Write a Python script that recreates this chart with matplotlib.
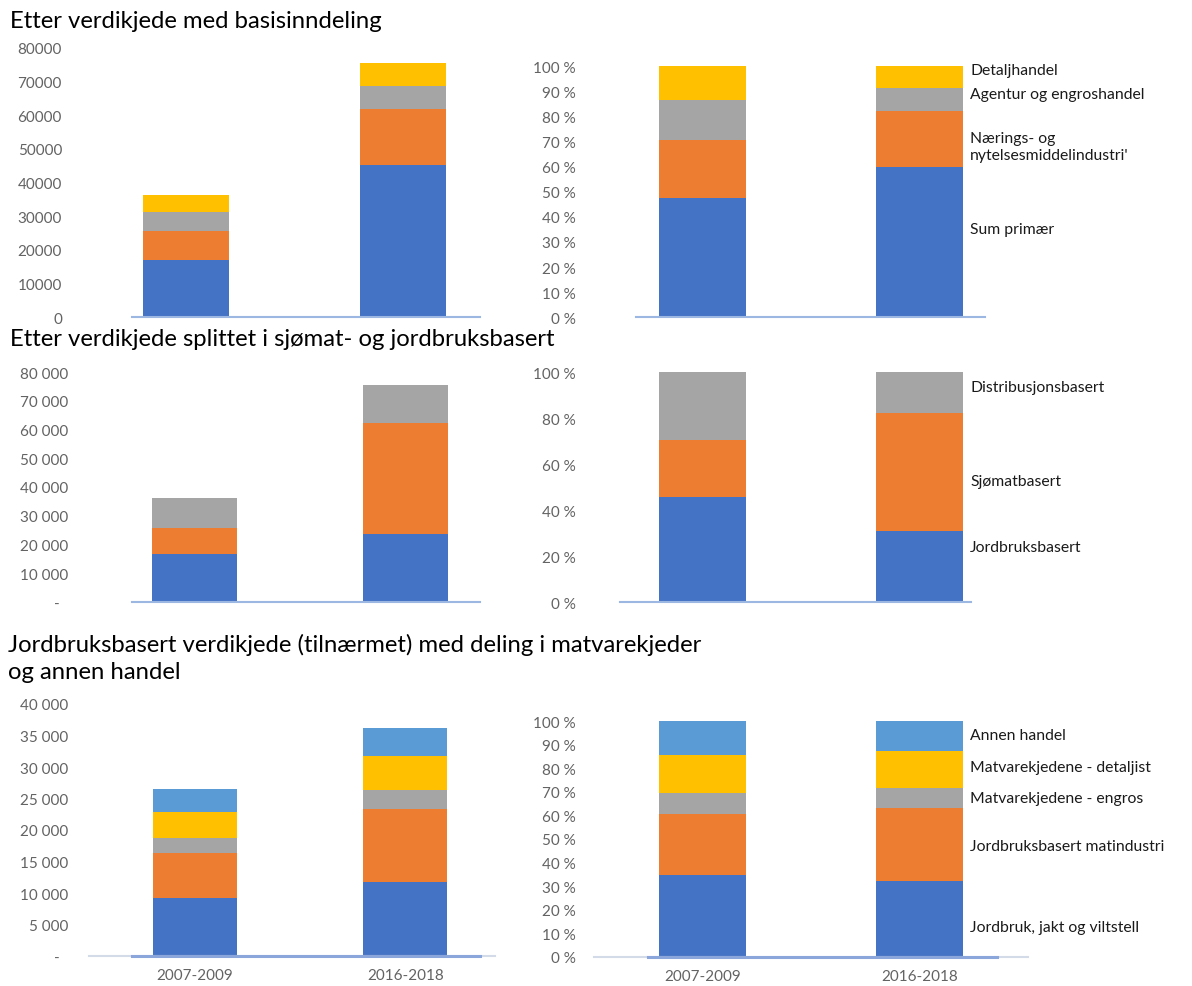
import numpy as np
import matplotlib
matplotlib.use("Agg")
import matplotlib.pyplot as plt

plt.rcParams['font.family'] = ['Lato', 'DejaVu Sans']

# ---------------- data ----------------
periods = ["2007-2009", "2016-2018"]

# Panel 1/2: value chain, basic split (mill. kr)
basis_labels = ["Sum primær", "Nærings- og\nnytelsesmiddelindustri'",
                "Agentur og engroshandel", "Detaljhandel"]
basis_sum_primaer = [17100, 45350]
basis_naering = [8450, 16650]
basis_agentur = [5750, 6700]
basis_detalj = [4950, 6750]
# shares (%)
basis_pct_sum_primaer = [47.4, 60.0]
basis_pct_naering = [23.3, 22.2]
basis_pct_agentur = [15.8, 9.0]
basis_pct_detalj = [13.5, 8.8]

# Panel 3/4: split seafood / agriculture
split_labels = ["Jordbruksbasert", "Sjømatbasert", "Distribusjonsbasert"]
split_jordbruk = [16600, 23600]
split_sjomat = [8950, 38600]
split_distr = [10700, 13500]
split_pct_jordbruk = [45.7, 31.2]
split_pct_sjomat = [24.9, 51.0]
split_pct_distr = [29.4, 17.8]

# Panel 5/6: agriculture-based chain
agri_labels = ["Jordbruk, jakt og viltstell", "Jordbruksbasert matindustri",
               "Matvarekjedene - engros", "Matvarekjedene - detaljist",
               "Annen handel"]
agri_jordbruk = [9200, 11810]
agri_matind = [7160, 11550]
agri_engros = [2380, 2910]
agri_detaljist = [4080, 5460]
agri_annen = [3660, 4450]
agri_pct_jordbruk = [34.6, 32.3]
agri_pct_matind = [26.1, 31.0]
agri_pct_engros = [8.9, 8.2]
agri_pct_detaljist = [16.2, 16.0]
agri_pct_annen = [14.2, 12.5]

titles = ["Etter verdikjede med basisinndeling",
          "Etter verdikjede splittet i sjømat- og jordbruksbasert",
          "Jordbruksbasert verdikjede (tilnærmet) med deling i matvarekjeder\nog annen handel"]

# ---------------- style ----------------
BLUE = "#4472C4"
ORANGE = "#ED7D31"
GRAY = "#A5A5A5"
YELLOW = "#FFC000"
LBLUE = "#5B9BD5"
TICKC = "#636363"
AXLINE = "#9DB7E3"
AXLIGHT = "#D3DAE8"
AXDARK = "#8AA6DA"

W, H = 1192, 987
fig = plt.figure(figsize=(W / 100, H / 100), dpi=100)


def add_ax(x0, x1, ytop, ybot):
    return fig.add_axes([x0 / W, 1 - ybot / H, (x1 - x0) / W, (ybot - ytop) / H])


def setup(ax, x0, x1, c0, c1, bw_px, ylim, yticks, ylabels, pad_px,
          spine_color=AXLINE, xlabels=False):
    span = c1 - c0
    ax.set_xlim(-(c0 - x0) / span, 1 + (x1 - c1) / span)
    ax.set_ylim(*ylim)
    for s in ["top", "right", "left"]:
        ax.spines[s].set_visible(False)
    ax.spines["bottom"].set_color(spine_color)
    ax.spines["bottom"].set_linewidth(1.5)
    ax.set_yticks(yticks)
    ax.set_yticklabels(ylabels)
    ax.tick_params(axis="y", length=0, pad=pad_px * 0.72, labelsize=11,
                   labelcolor=TICKC)
    if xlabels:
        ax.set_xticks([0, 1])
        ax.set_xticklabels(periods)
        ax.tick_params(axis="x", length=0, pad=9, labelsize=11,
                       labelcolor=TICKC)
    else:
        ax.set_xticks([])
    ax.set_facecolor("none")
    return bw_px / span


def stack(ax, series, colors, width):
    x = np.arange(len(periods))
    bottom = np.zeros(len(periods))
    for vals, c in zip(series, colors):
        vals = np.asarray(vals, dtype=float)
        ax.bar(x, vals, width, bottom=bottom, color=c, linewidth=0, zorder=2)
        bottom += vals


def fmt_space(v):
    return "-  " if v == 0 else f"{v:,}".replace(",", " ")


c_left = (186, 402.5)
c_right = (702.3, 919.5)

# ---- Panel 1 ----
ax1 = add_ax(132, 480, 49, 318)
t = list(range(0, 80001, 10000))
w = setup(ax1, 132, 480, *c_left, 86, (0, 80000), t, [str(v) for v in t], 70)
stack(ax1, [basis_sum_primaer, basis_naering, basis_agentur, basis_detalj],
      [BLUE, ORANGE, GRAY, YELLOW], w)

# ---- Panel 2 ----
ax2 = add_ax(636, 985, 67.3, 318.3)
t = list(range(0, 101, 10))
w = setup(ax2, 636, 985, *c_right, 87, (0, 100), t, [f"{v} %" for v in t], 60)
stack(ax2, [basis_pct_sum_primaer, basis_pct_naering, basis_pct_agentur,
            basis_pct_detalj], [BLUE, ORANGE, GRAY, YELLOW], w)

# ---- Panel 3 ----
ax3 = add_ax(132, 480, 373.3, 602.7)
t = list(range(0, 80001, 10000))
w = setup(ax3, 132, 480, 194.5, 405, 85, (0, 80000), t,
          [fmt_space(v) for v in t], 64)
stack(ax3, [split_jordbruk, split_sjomat, split_distr],
      [BLUE, ORANGE, GRAY], w)

# ---- Panel 4 ----
ax4 = add_ax(620, 971, 373.3, 603.3)
t = list(range(0, 101, 20))
w = setup(ax4, 620, 971, *c_right, 87, (0, 100), t, [f"{v} %" for v in t], 44)
stack(ax4, [split_pct_jordbruk, split_pct_sjomat, split_pct_distr],
      [BLUE, ORANGE, GRAY], w)

# ---- Panel 5 ----
ax5 = add_ax(89, 495, 705, 957)
t = list(range(0, 40001, 5000))
w = setup(ax5, 89, 495, 194.5, 405.3, 84, (0, 40000), t,
          [fmt_space(v) for v in t], 21, spine_color=AXLIGHT, xlabels=True)
stack(ax5, [agri_jordbruk, agri_matind, agri_engros, agri_detaljist, agri_annen],
      [BLUE, ORANGE, GRAY, YELLOW, LBLUE], w)
ax5.axhline(0, xmin=(132 - 89) / (495 - 89), xmax=(480 - 89) / (495 - 89),
            color=AXDARK, lw=2.2, zorder=3, clip_on=False)

# ---- Panel 6 ----
ax6 = add_ax(593.5, 1028, 722.3, 957.7)
t = list(range(0, 101, 10))
w = setup(ax6, 593.5, 1028, *c_right, 87, (0, 100), t, [f"{v} %" for v in t],
          17.5, spine_color=AXLIGHT, xlabels=True)
stack(ax6, [agri_pct_jordbruk, agri_pct_matind, agri_pct_engros,
            agri_pct_detaljist, agri_pct_annen],
      [BLUE, ORANGE, GRAY, YELLOW, LBLUE], w)
ax6.axhline(0, xmin=(648 - 593.5) / (1028 - 593.5),
            xmax=(996.5 - 593.5) / (1028 - 593.5),
            color=AXDARK, lw=2.2, zorder=3, clip_on=False)

# ---- series labels (right of the 100 % charts) ----
def lab(text, ypx):
    fig.text(970 / W, 1 - ypx / H, text, ha="left", va="center",
             fontsize=11.3, color="#1a1a1a", linespacing=1.2)

lab(basis_labels[3], 71)
lab(basis_labels[2], 95)
lab(basis_labels[1], 147.5)
lab(basis_labels[0], 230)

lab(split_labels[2], 388)
lab(split_labels[1], 482)
lab(split_labels[0], 548)

lab(agri_labels[4], 735.7)
lab(agri_labels[3], 768)
lab(agri_labels[2], 799)
lab(agri_labels[1], 847)
lab(agri_labels[0], 928)

# ---- section titles ----
fig.text(10 / W, 1 - 21 / H, titles[0], ha="left", va="center",
         fontsize=17.2, color="black")
fig.text(10 / W, 1 - 340 / H, titles[1], ha="left", va="center",
         fontsize=17.2, color="black")
fig.text(8 / W, 1 - 658.5 / H, titles[2], ha="left", va="center",
         fontsize=17.2, color="black", linespacing=1.3)

fig.savefig("out.png", dpi=100, facecolor="white")
